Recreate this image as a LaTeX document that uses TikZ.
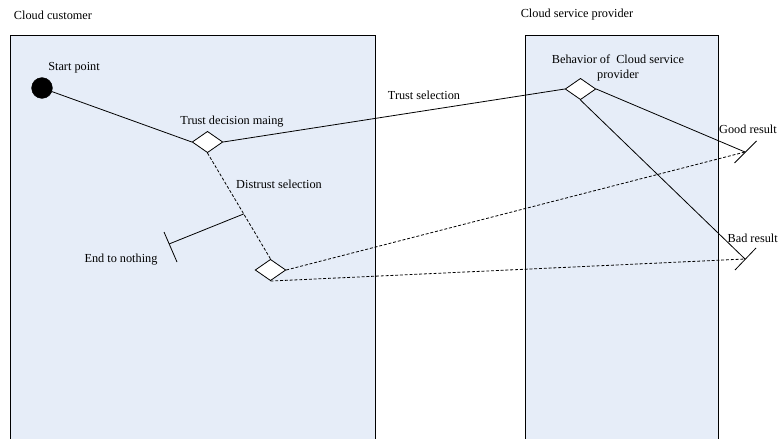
\documentclass[tikz,border=0pt]{standalone}
\usepackage{fontspec}
\setmainfont{Liberation Serif}
\usetikzlibrary{shapes.geometric,positioning,calc}
\definecolor{lanefill}{RGB}{230,237,248}

\begin{document}
\begin{tikzpicture}[x=0.75pt,y=-0.75pt,font=\fontsize{9.2}{10.6}\selectfont,
    decision/.style={draw, diamond, fill=white, inner sep=0pt, minimum width=23pt, minimum height=16pt, line width=0.6pt},
    flow/.style={line width=0.6pt},
    altflow/.style={line width=0.6pt, dash pattern=on 2.2pt off 1.4pt},
    label/.style={inner sep=0pt, align=center}]
    \useasboundingbox (0,0) rectangle (779,439);

    % Swim lanes
    \fill[lanefill] (10,35) rectangle (375,441);
    \draw[line width=0.7pt] (10,441) -- (10,35) -- (375,35) -- (375,441);
    \fill[lanefill] (525,35) rectangle (718,441);
    \draw[line width=0.7pt] (525,441) -- (525,35) -- (718,35) -- (718,441);
    \node[label] (customer) at (53,15) {Cloud customer};
    \node[label] (provider) at (577,15) {Cloud service provider};

    % Decision points
    \node[draw, circle, fill=black, inner sep=0pt, minimum size=15.5pt] (start) at (42,88) {};
    \node[decision] (d1) at (207.5,142) {};
    \node[decision] (d2) at (580.5,89) {};
    \node[decision] (d3) at (270.5,270) {};

    % End points
    \coordinate (good) at (745,152);
    \coordinate (bad) at (745,259);
    \coordinate (fork) at ($(d1.south)!0.575!(d3.north)$);
    \coordinate (nothing) at (169,244);

    % Connections
    \draw[flow] (start) -- (d1.west);
    \draw[flow] (d1.east) -- (d2.west);
    \draw[flow] (d2.east) -- (good);
    \draw[flow] (d2.south) -- (bad);
    \draw[altflow] (d1.south) -- (d3.north);
    \draw[altflow] (d3.east) -- (good);
    \draw[altflow] (d3.south) -- (bad);
    \draw[flow] (fork) -- (nothing);

    % Terminal bars
    \draw[flow] (good) ++(11.5,-11) -- ++(-22,22);
    \draw[flow] (bad) ++(11,-11) -- ++(-21,22);
    \draw[flow] (nothing) ++(-5,-12) -- ++(13,30);

    % Labels
    \node[label] (startlbl) at (74,68) {Start point};
    \node[label] (d1lbl) at (232,122) {Trust decision maing};
    \node[label] (trustlbl) at (424,95) {Trust selection};
    \node[label] (d2lbl) at (618,68) {Behavior of \ Cloud service\\provider};
    \node[label] (distrustlbl) at (279,184) {Distrust selection};
    \node[label] (nothinglbl) at (121,260) {End to nothing};
    \node[label] (goodlbl) at (748,129) {Good result};
    \node[label, anchor=east] (badlbl) at (778,238) {Bad result};
\end{tikzpicture}
\end{document}
